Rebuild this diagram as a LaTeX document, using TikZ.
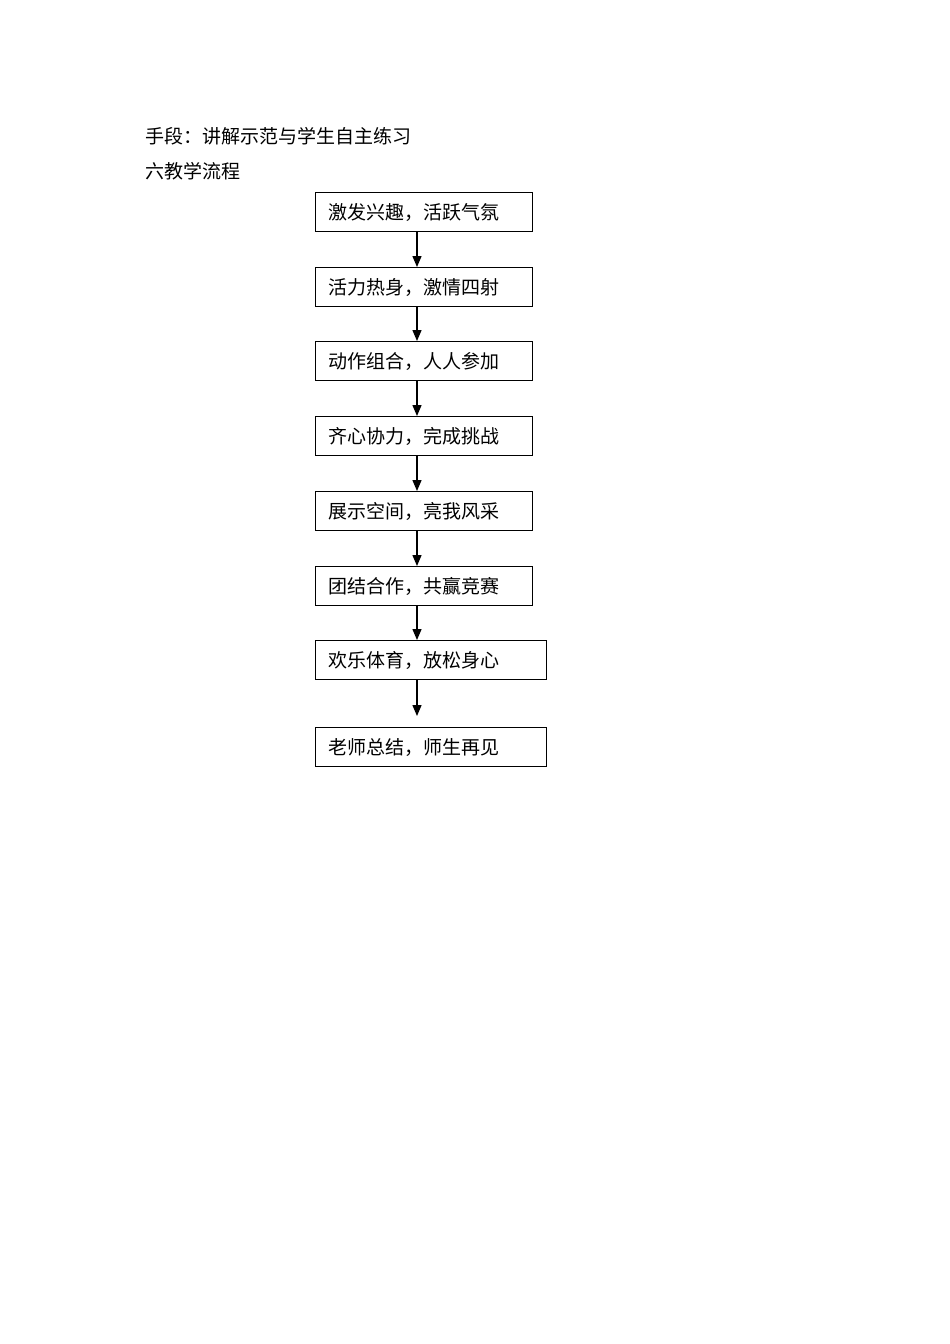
\documentclass[tikz,border=0pt]{standalone}
\usepackage{fontspec}
\setmainfont{Noto Sans CJK SC}
\usepackage{tikz}
\usetikzlibrary{arrows.meta}

\begin{document}
\begin{tikzpicture}[x=1pt,y=-1pt,line width=1.3pt,
    step box/.style={draw,rectangle,minimum height=39pt,inner xsep=13pt,inner ysep=0pt,align=left,font=\fontsize{19}{22}\selectfont,anchor=north west},
    flow/.style={-{Triangle[width=9pt,length=11pt]}}]
    \useasboundingbox (0,0) rectangle (950,1344);
    \node[anchor=west,inner sep=0pt,font=\fontsize{19}{22}\selectfont](way) at (145,136) {手段：讲解示范与学生自主练习};
    \node[anchor=west,inner sep=0pt,font=\fontsize{19}{22}\selectfont](title) at (145,171) {六教学流程};

    \node[step box,text width=191pt](s1) at (315,192) {激发兴趣，活跃气氛};
    \node[step box,text width=191pt](s2) at (315,267) {活力热身，激情四射};
    \node[step box,text width=191pt](s3) at (315,341) {动作组合，人人参加};
    \node[step box,text width=191pt](s4) at (315,416) {齐心协力，完成挑战};
    \node[step box,text width=191pt](s5) at (315,491) {展示空间，亮我风采};
    \node[step box,text width=191pt](s6) at (315,566) {团结合作，共赢竞赛};
    \node[step box,text width=205pt](s7) at (315,640) {欢乐体育，放松身心};
    \node[step box,text width=205pt](s8) at (315,727) {老师总结，师生再见};

    \coordinate(ax) at (417,0);
    \coordinate(end) at (417,716);

    \draw[flow](s1.south -| ax) -- (s2.north -| ax);
    \draw[flow](s2.south -| ax) -- (s3.north -| ax);
    \draw[flow](s3.south -| ax) -- (s4.north -| ax);
    \draw[flow](s4.south -| ax) -- (s5.north -| ax);
    \draw[flow](s5.south -| ax) -- (s6.north -| ax);
    \draw[flow](s6.south -| ax) -- (s7.north -| ax);
    \draw[flow](s7.south -| ax) -- (end);
\end{tikzpicture}
\end{document}
